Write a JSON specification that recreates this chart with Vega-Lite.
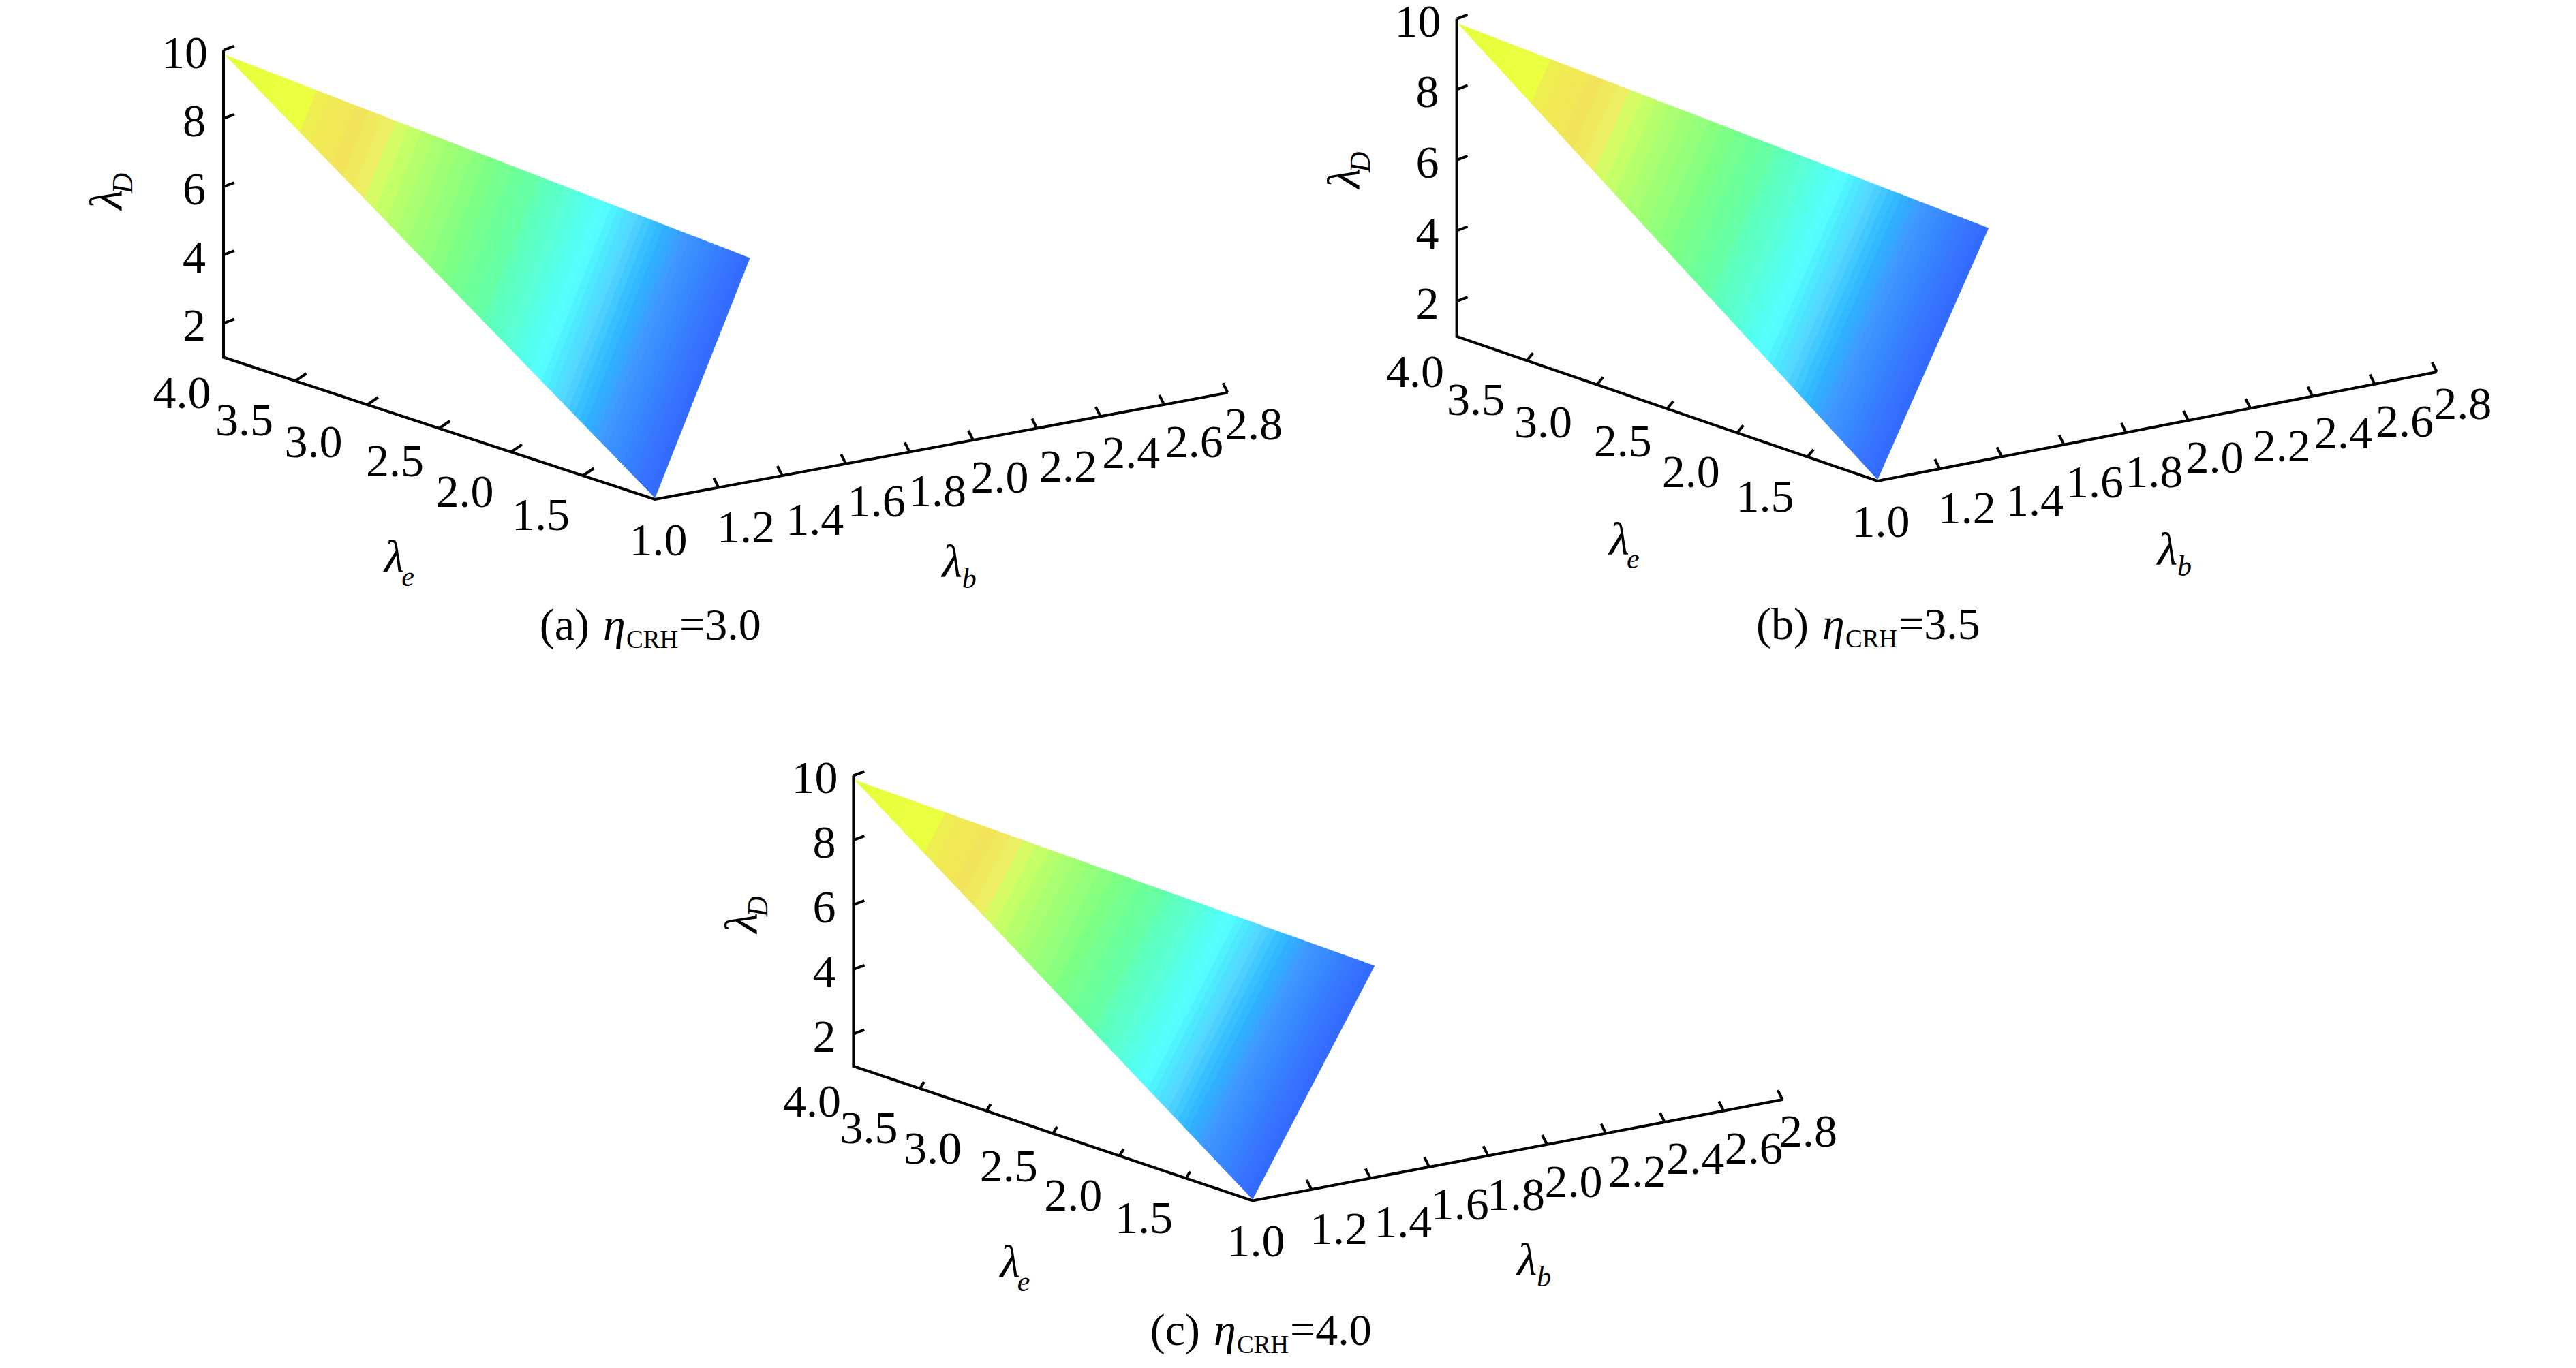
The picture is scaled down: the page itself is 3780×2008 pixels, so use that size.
{"$schema":"https://vega.github.io/schema/vega-lite/v6.json","width":3780,"height":2008,"padding":0,"autosize":"none","background":"white","config":{"view":{"stroke":null},"text":{"font":"Liberation Serif"}},
"params":[{"name":"P","value":{"ox":{"a":961,"b":2755,"c":1838},"oy":{"a":733,"b":706,"c":1762.4},"ex":{"a":-211,"b":-205.8,"c":-195.2},"ey":{"a":-69.5,"b":-70.7,"c":-65.8},"bx":{"a":467,"b":456,"c":432},"by":{"a":-87,"b":-88.9,"c":-82.4},"dz":{"a":50.1,"b":51.8,"c":47.4},"etx":{"a":16,"b":9,"c":6},"ety":{"a":-11,"b":-11,"c":-10},"Rb":{"a":1.298,"b":1.357,"c":1.414},"RD":7.56,"Te":3.99,"TD":9.88,"BD":1.05,"capx":{"a":865,"b":2654,"c":1761},"capy":{"a":939,"b":938,"c":1974}}},
{"name":"L","value":{"e4.0":[-61,54],"e3.5":[-75,60],"e3.0":[-79,57],"e2.5":[-65,50],"e2.0":[-68,60],"e1.5":[-62,60],"e1.0":[5,62],"b1.2":[40,60],"b1.4":[48,67],"b1.6":[45,57],"b1.8":[41,60],"b2.0":[39,57],"b2.2":[46,58],"b2.4":[45,56],"b2.6":[44,57],"b2.8":[38,49],"D10":[-57,6],"D8":[-43,6],"D6":[-43,6],"D4":[-43,6],"D2":[-43,6]}},
{"name":"TO","value":{"ae":[-66,191],"be":[-70,194],"ce":[-63,191],"ab":[16,172],"bb":[15,183],"cb":[14,164],"aD":[-169,-6],"bD":[-163,1],"cD":[-161,3]}}],
"data":{"values":[
{"kind":"strip","panel":"a","t0":0,"t1":0.025},{"kind":"strip","panel":"a","t0":0.025,"t1":0.05},{"kind":"strip","panel":"a","t0":0.05,"t1":0.075},{"kind":"strip","panel":"a","t0":0.075,"t1":0.1},{"kind":"strip","panel":"a","t0":0.1,"t1":0.125},{"kind":"strip","panel":"a","t0":0.125,"t1":0.15},{"kind":"strip","panel":"a","t0":0.15,"t1":0.175},{"kind":"strip","panel":"a","t0":0.175,"t1":0.2},{"kind":"strip","panel":"a","t0":0.2,"t1":0.225},{"kind":"strip","panel":"a","t0":0.225,"t1":0.25},{"kind":"strip","panel":"a","t0":0.25,"t1":0.275},{"kind":"strip","panel":"a","t0":0.275,"t1":0.3},{"kind":"strip","panel":"a","t0":0.3,"t1":0.325},{"kind":"strip","panel":"a","t0":0.325,"t1":0.35},{"kind":"strip","panel":"a","t0":0.35,"t1":0.375},{"kind":"strip","panel":"a","t0":0.375,"t1":0.4},{"kind":"strip","panel":"a","t0":0.4,"t1":0.425},{"kind":"strip","panel":"a","t0":0.425,"t1":0.45},{"kind":"strip","panel":"a","t0":0.45,"t1":0.475},{"kind":"strip","panel":"a","t0":0.475,"t1":0.5},{"kind":"strip","panel":"a","t0":0.5,"t1":0.525},{"kind":"strip","panel":"a","t0":0.525,"t1":0.55},{"kind":"strip","panel":"a","t0":0.55,"t1":0.575},{"kind":"strip","panel":"a","t0":0.575,"t1":0.6},
{"kind":"strip","panel":"a","t0":0.6,"t1":0.6125},{"kind":"strip","panel":"a","t0":0.6125,"t1":0.625},{"kind":"strip","panel":"a","t0":0.625,"t1":0.6375},{"kind":"strip","panel":"a","t0":0.6375,"t1":0.65},{"kind":"strip","panel":"a","t0":0.65,"t1":0.6625},{"kind":"strip","panel":"a","t0":0.6625,"t1":0.675},{"kind":"strip","panel":"a","t0":0.675,"t1":0.6875},{"kind":"strip","panel":"a","t0":0.6875,"t1":0.7},{"kind":"strip","panel":"a","t0":0.7,"t1":0.7125},{"kind":"strip","panel":"a","t0":0.7125,"t1":0.725},{"kind":"strip","panel":"a","t0":0.725,"t1":0.7375},{"kind":"strip","panel":"a","t0":0.7375,"t1":0.75},{"kind":"strip","panel":"a","t0":0.75,"t1":0.7625},{"kind":"strip","panel":"a","t0":0.7625,"t1":0.775},{"kind":"strip","panel":"a","t0":0.775,"t1":0.7875},{"kind":"strip","panel":"a","t0":0.7875,"t1":0.8},{"kind":"strip","panel":"a","t0":0.8,"t1":0.8125},{"kind":"strip","panel":"a","t0":0.8125,"t1":0.825},{"kind":"strip","panel":"a","t0":0.825,"t1":0.8375},{"kind":"strip","panel":"a","t0":0.8375,"t1":0.85},{"kind":"strip","panel":"a","t0":0.85,"t1":0.8625},{"kind":"strip","panel":"a","t0":0.8625,"t1":0.875},{"kind":"strip","panel":"a","t0":0.875,"t1":0.8875},{"kind":"strip","panel":"a","t0":0.8875,"t1":0.9},{"kind":"strip","panel":"a","t0":0.9,"t1":0.9125},{"kind":"strip","panel":"a","t0":0.9125,"t1":0.925},{"kind":"strip","panel":"a","t0":0.925,"t1":0.9375},{"kind":"strip","panel":"a","t0":0.9375,"t1":0.95},{"kind":"strip","panel":"a","t0":0.95,"t1":0.9625},{"kind":"strip","panel":"a","t0":0.9625,"t1":0.975},{"kind":"strip","panel":"a","t0":0.975,"t1":0.9875},{"kind":"strip","panel":"a","t0":0.9875,"t1":1},
{"kind":"strip","panel":"b","t0":0,"t1":0.025},{"kind":"strip","panel":"b","t0":0.025,"t1":0.05},{"kind":"strip","panel":"b","t0":0.05,"t1":0.075},{"kind":"strip","panel":"b","t0":0.075,"t1":0.1},{"kind":"strip","panel":"b","t0":0.1,"t1":0.125},{"kind":"strip","panel":"b","t0":0.125,"t1":0.15},{"kind":"strip","panel":"b","t0":0.15,"t1":0.175},{"kind":"strip","panel":"b","t0":0.175,"t1":0.2},{"kind":"strip","panel":"b","t0":0.2,"t1":0.225},{"kind":"strip","panel":"b","t0":0.225,"t1":0.25},{"kind":"strip","panel":"b","t0":0.25,"t1":0.275},{"kind":"strip","panel":"b","t0":0.275,"t1":0.3},{"kind":"strip","panel":"b","t0":0.3,"t1":0.325},{"kind":"strip","panel":"b","t0":0.325,"t1":0.35},{"kind":"strip","panel":"b","t0":0.35,"t1":0.375},{"kind":"strip","panel":"b","t0":0.375,"t1":0.4},{"kind":"strip","panel":"b","t0":0.4,"t1":0.425},{"kind":"strip","panel":"b","t0":0.425,"t1":0.45},{"kind":"strip","panel":"b","t0":0.45,"t1":0.475},{"kind":"strip","panel":"b","t0":0.475,"t1":0.5},{"kind":"strip","panel":"b","t0":0.5,"t1":0.525},{"kind":"strip","panel":"b","t0":0.525,"t1":0.55},{"kind":"strip","panel":"b","t0":0.55,"t1":0.575},{"kind":"strip","panel":"b","t0":0.575,"t1":0.6},
{"kind":"strip","panel":"b","t0":0.6,"t1":0.6125},{"kind":"strip","panel":"b","t0":0.6125,"t1":0.625},{"kind":"strip","panel":"b","t0":0.625,"t1":0.6375},{"kind":"strip","panel":"b","t0":0.6375,"t1":0.65},{"kind":"strip","panel":"b","t0":0.65,"t1":0.6625},{"kind":"strip","panel":"b","t0":0.6625,"t1":0.675},{"kind":"strip","panel":"b","t0":0.675,"t1":0.6875},{"kind":"strip","panel":"b","t0":0.6875,"t1":0.7},{"kind":"strip","panel":"b","t0":0.7,"t1":0.7125},{"kind":"strip","panel":"b","t0":0.7125,"t1":0.725},{"kind":"strip","panel":"b","t0":0.725,"t1":0.7375},{"kind":"strip","panel":"b","t0":0.7375,"t1":0.75},{"kind":"strip","panel":"b","t0":0.75,"t1":0.7625},{"kind":"strip","panel":"b","t0":0.7625,"t1":0.775},{"kind":"strip","panel":"b","t0":0.775,"t1":0.7875},{"kind":"strip","panel":"b","t0":0.7875,"t1":0.8},{"kind":"strip","panel":"b","t0":0.8,"t1":0.8125},{"kind":"strip","panel":"b","t0":0.8125,"t1":0.825},{"kind":"strip","panel":"b","t0":0.825,"t1":0.8375},{"kind":"strip","panel":"b","t0":0.8375,"t1":0.85},{"kind":"strip","panel":"b","t0":0.85,"t1":0.8625},{"kind":"strip","panel":"b","t0":0.8625,"t1":0.875},{"kind":"strip","panel":"b","t0":0.875,"t1":0.8875},{"kind":"strip","panel":"b","t0":0.8875,"t1":0.9},{"kind":"strip","panel":"b","t0":0.9,"t1":0.9125},{"kind":"strip","panel":"b","t0":0.9125,"t1":0.925},{"kind":"strip","panel":"b","t0":0.925,"t1":0.9375},{"kind":"strip","panel":"b","t0":0.9375,"t1":0.95},{"kind":"strip","panel":"b","t0":0.95,"t1":0.9625},{"kind":"strip","panel":"b","t0":0.9625,"t1":0.975},{"kind":"strip","panel":"b","t0":0.975,"t1":0.9875},{"kind":"strip","panel":"b","t0":0.9875,"t1":1},
{"kind":"strip","panel":"c","t0":0,"t1":0.025},{"kind":"strip","panel":"c","t0":0.025,"t1":0.05},{"kind":"strip","panel":"c","t0":0.05,"t1":0.075},{"kind":"strip","panel":"c","t0":0.075,"t1":0.1},{"kind":"strip","panel":"c","t0":0.1,"t1":0.125},{"kind":"strip","panel":"c","t0":0.125,"t1":0.15},{"kind":"strip","panel":"c","t0":0.15,"t1":0.175},{"kind":"strip","panel":"c","t0":0.175,"t1":0.2},{"kind":"strip","panel":"c","t0":0.2,"t1":0.225},{"kind":"strip","panel":"c","t0":0.225,"t1":0.25},{"kind":"strip","panel":"c","t0":0.25,"t1":0.275},{"kind":"strip","panel":"c","t0":0.275,"t1":0.3},{"kind":"strip","panel":"c","t0":0.3,"t1":0.325},{"kind":"strip","panel":"c","t0":0.325,"t1":0.35},{"kind":"strip","panel":"c","t0":0.35,"t1":0.375},{"kind":"strip","panel":"c","t0":0.375,"t1":0.4},{"kind":"strip","panel":"c","t0":0.4,"t1":0.425},{"kind":"strip","panel":"c","t0":0.425,"t1":0.45},{"kind":"strip","panel":"c","t0":0.45,"t1":0.475},{"kind":"strip","panel":"c","t0":0.475,"t1":0.5},{"kind":"strip","panel":"c","t0":0.5,"t1":0.525},{"kind":"strip","panel":"c","t0":0.525,"t1":0.55},{"kind":"strip","panel":"c","t0":0.55,"t1":0.575},{"kind":"strip","panel":"c","t0":0.575,"t1":0.6},
{"kind":"strip","panel":"c","t0":0.6,"t1":0.6125},{"kind":"strip","panel":"c","t0":0.6125,"t1":0.625},{"kind":"strip","panel":"c","t0":0.625,"t1":0.6375},{"kind":"strip","panel":"c","t0":0.6375,"t1":0.65},{"kind":"strip","panel":"c","t0":0.65,"t1":0.6625},{"kind":"strip","panel":"c","t0":0.6625,"t1":0.675},{"kind":"strip","panel":"c","t0":0.675,"t1":0.6875},{"kind":"strip","panel":"c","t0":0.6875,"t1":0.7},{"kind":"strip","panel":"c","t0":0.7,"t1":0.7125},{"kind":"strip","panel":"c","t0":0.7125,"t1":0.725},{"kind":"strip","panel":"c","t0":0.725,"t1":0.7375},{"kind":"strip","panel":"c","t0":0.7375,"t1":0.75},{"kind":"strip","panel":"c","t0":0.75,"t1":0.7625},{"kind":"strip","panel":"c","t0":0.7625,"t1":0.775},{"kind":"strip","panel":"c","t0":0.775,"t1":0.7875},{"kind":"strip","panel":"c","t0":0.7875,"t1":0.8},{"kind":"strip","panel":"c","t0":0.8,"t1":0.8125},{"kind":"strip","panel":"c","t0":0.8125,"t1":0.825},{"kind":"strip","panel":"c","t0":0.825,"t1":0.8375},{"kind":"strip","panel":"c","t0":0.8375,"t1":0.85},{"kind":"strip","panel":"c","t0":0.85,"t1":0.8625},{"kind":"strip","panel":"c","t0":0.8625,"t1":0.875},{"kind":"strip","panel":"c","t0":0.875,"t1":0.8875},{"kind":"strip","panel":"c","t0":0.8875,"t1":0.9},{"kind":"strip","panel":"c","t0":0.9,"t1":0.9125},{"kind":"strip","panel":"c","t0":0.9125,"t1":0.925},{"kind":"strip","panel":"c","t0":0.925,"t1":0.9375},{"kind":"strip","panel":"c","t0":0.9375,"t1":0.95},{"kind":"strip","panel":"c","t0":0.95,"t1":0.9625},{"kind":"strip","panel":"c","t0":0.9625,"t1":0.975},{"kind":"strip","panel":"c","t0":0.975,"t1":0.9875},{"kind":"strip","panel":"c","t0":0.9875,"t1":1},
{"kind":"axis","panel":"a","n":0,"e":4,"b":1,"D":10},{"kind":"axis","panel":"a","n":1,"e":4,"b":1,"D":1},{"kind":"axis","panel":"a","n":2,"e":1,"b":1,"D":1},{"kind":"axis","panel":"a","n":3,"e":1,"b":2.8,"D":1},
{"kind":"axis","panel":"b","n":0,"e":4,"b":1,"D":10},{"kind":"axis","panel":"b","n":1,"e":4,"b":1,"D":1},{"kind":"axis","panel":"b","n":2,"e":1,"b":1,"D":1},{"kind":"axis","panel":"b","n":3,"e":1,"b":2.8,"D":1},
{"kind":"axis","panel":"c","n":0,"e":4,"b":1,"D":10},{"kind":"axis","panel":"c","n":1,"e":4,"b":1,"D":1},{"kind":"axis","panel":"c","n":2,"e":1,"b":1,"D":1},{"kind":"axis","panel":"c","n":3,"e":1,"b":2.8,"D":1},
{"kind":"tick","panel":"a","axis":"D","e":4,"b":1,"D":10,"label":"10"},{"kind":"tick","panel":"a","axis":"D","e":4,"b":1,"D":8,"label":"8"},{"kind":"tick","panel":"a","axis":"D","e":4,"b":1,"D":6,"label":"6"},{"kind":"tick","panel":"a","axis":"D","e":4,"b":1,"D":4,"label":"4"},{"kind":"tick","panel":"a","axis":"D","e":4,"b":1,"D":2,"label":"2"},
{"kind":"tick","panel":"a","axis":"e","e":4,"b":1,"D":1,"label":"4.0"},{"kind":"tick","panel":"a","axis":"e","e":3.5,"b":1,"D":1,"label":"3.5"},{"kind":"tick","panel":"a","axis":"e","e":3,"b":1,"D":1,"label":"3.0"},{"kind":"tick","panel":"a","axis":"e","e":2.5,"b":1,"D":1,"label":"2.5"},{"kind":"tick","panel":"a","axis":"e","e":2,"b":1,"D":1,"label":"2.0"},{"kind":"tick","panel":"a","axis":"e","e":1.5,"b":1,"D":1,"label":"1.5"},{"kind":"tick","panel":"a","axis":"e","e":1,"b":1,"D":1,"label":"1.0"},
{"kind":"tick","panel":"a","axis":"b","e":1,"b":1.2,"D":1,"label":"1.2"},{"kind":"tick","panel":"a","axis":"b","e":1,"b":1.4,"D":1,"label":"1.4"},{"kind":"tick","panel":"a","axis":"b","e":1,"b":1.6,"D":1,"label":"1.6"},{"kind":"tick","panel":"a","axis":"b","e":1,"b":1.8,"D":1,"label":"1.8"},{"kind":"tick","panel":"a","axis":"b","e":1,"b":2,"D":1,"label":"2.0"},{"kind":"tick","panel":"a","axis":"b","e":1,"b":2.2,"D":1,"label":"2.2"},{"kind":"tick","panel":"a","axis":"b","e":1,"b":2.4,"D":1,"label":"2.4"},{"kind":"tick","panel":"a","axis":"b","e":1,"b":2.6,"D":1,"label":"2.6"},{"kind":"tick","panel":"a","axis":"b","e":1,"b":2.8,"D":1,"label":"2.8"},
{"kind":"tick","panel":"b","axis":"D","e":4,"b":1,"D":10,"label":"10"},{"kind":"tick","panel":"b","axis":"D","e":4,"b":1,"D":8,"label":"8"},{"kind":"tick","panel":"b","axis":"D","e":4,"b":1,"D":6,"label":"6"},{"kind":"tick","panel":"b","axis":"D","e":4,"b":1,"D":4,"label":"4"},{"kind":"tick","panel":"b","axis":"D","e":4,"b":1,"D":2,"label":"2"},
{"kind":"tick","panel":"b","axis":"e","e":4,"b":1,"D":1,"label":"4.0"},{"kind":"tick","panel":"b","axis":"e","e":3.5,"b":1,"D":1,"label":"3.5"},{"kind":"tick","panel":"b","axis":"e","e":3,"b":1,"D":1,"label":"3.0"},{"kind":"tick","panel":"b","axis":"e","e":2.5,"b":1,"D":1,"label":"2.5"},{"kind":"tick","panel":"b","axis":"e","e":2,"b":1,"D":1,"label":"2.0"},{"kind":"tick","panel":"b","axis":"e","e":1.5,"b":1,"D":1,"label":"1.5"},{"kind":"tick","panel":"b","axis":"e","e":1,"b":1,"D":1,"label":"1.0"},
{"kind":"tick","panel":"b","axis":"b","e":1,"b":1.2,"D":1,"label":"1.2"},{"kind":"tick","panel":"b","axis":"b","e":1,"b":1.4,"D":1,"label":"1.4"},{"kind":"tick","panel":"b","axis":"b","e":1,"b":1.6,"D":1,"label":"1.6"},{"kind":"tick","panel":"b","axis":"b","e":1,"b":1.8,"D":1,"label":"1.8"},{"kind":"tick","panel":"b","axis":"b","e":1,"b":2,"D":1,"label":"2.0"},{"kind":"tick","panel":"b","axis":"b","e":1,"b":2.2,"D":1,"label":"2.2"},{"kind":"tick","panel":"b","axis":"b","e":1,"b":2.4,"D":1,"label":"2.4"},{"kind":"tick","panel":"b","axis":"b","e":1,"b":2.6,"D":1,"label":"2.6"},{"kind":"tick","panel":"b","axis":"b","e":1,"b":2.8,"D":1,"label":"2.8"},
{"kind":"tick","panel":"c","axis":"D","e":4,"b":1,"D":10,"label":"10"},{"kind":"tick","panel":"c","axis":"D","e":4,"b":1,"D":8,"label":"8"},{"kind":"tick","panel":"c","axis":"D","e":4,"b":1,"D":6,"label":"6"},{"kind":"tick","panel":"c","axis":"D","e":4,"b":1,"D":4,"label":"4"},{"kind":"tick","panel":"c","axis":"D","e":4,"b":1,"D":2,"label":"2"},
{"kind":"tick","panel":"c","axis":"e","e":4,"b":1,"D":1,"label":"4.0"},{"kind":"tick","panel":"c","axis":"e","e":3.5,"b":1,"D":1,"label":"3.5"},{"kind":"tick","panel":"c","axis":"e","e":3,"b":1,"D":1,"label":"3.0"},{"kind":"tick","panel":"c","axis":"e","e":2.5,"b":1,"D":1,"label":"2.5"},{"kind":"tick","panel":"c","axis":"e","e":2,"b":1,"D":1,"label":"2.0"},{"kind":"tick","panel":"c","axis":"e","e":1.5,"b":1,"D":1,"label":"1.5"},{"kind":"tick","panel":"c","axis":"e","e":1,"b":1,"D":1,"label":"1.0"},
{"kind":"tick","panel":"c","axis":"b","e":1,"b":1.2,"D":1,"label":"1.2"},{"kind":"tick","panel":"c","axis":"b","e":1,"b":1.4,"D":1,"label":"1.4"},{"kind":"tick","panel":"c","axis":"b","e":1,"b":1.6,"D":1,"label":"1.6"},{"kind":"tick","panel":"c","axis":"b","e":1,"b":1.8,"D":1,"label":"1.8"},{"kind":"tick","panel":"c","axis":"b","e":1,"b":2,"D":1,"label":"2.0"},{"kind":"tick","panel":"c","axis":"b","e":1,"b":2.2,"D":1,"label":"2.2"},{"kind":"tick","panel":"c","axis":"b","e":1,"b":2.4,"D":1,"label":"2.4"},{"kind":"tick","panel":"c","axis":"b","e":1,"b":2.6,"D":1,"label":"2.6"},{"kind":"tick","panel":"c","axis":"b","e":1,"b":2.8,"D":1,"label":"2.8"},
{"kind":"title","panel":"a","axis":"e","e":2.5,"b":1,"D":1},{"kind":"title","panel":"a","axis":"b","e":1,"b":1.9,"D":1},{"kind":"title","panel":"a","axis":"D","e":4,"b":1,"D":5.5},
{"kind":"title","panel":"b","axis":"e","e":2.5,"b":1,"D":1},{"kind":"title","panel":"b","axis":"b","e":1,"b":1.9,"D":1},{"kind":"title","panel":"b","axis":"D","e":4,"b":1,"D":5.5},
{"kind":"title","panel":"c","axis":"e","e":2.5,"b":1,"D":1},{"kind":"title","panel":"c","axis":"b","e":1,"b":1.9,"D":1},{"kind":"title","panel":"c","axis":"D","e":4,"b":1,"D":5.5},
{"kind":"caption","panel":"a","tag":"(a)","value":"=3.0"},{"kind":"caption","panel":"b","tag":"(b)","value":"=3.5"},{"kind":"caption","panel":"c","tag":"(c)","value":"=4.0"}
]},
"transform":[
{"calculate":"datum.kind=='strip'?[0,1,2,3]:[0]","as":"verts"},{"flatten":["verts"]},
{"calculate":"datum.verts<2?datum.t0:datum.t1","as":"tv"},
{"calculate":"datum.verts==0||datum.verts==3","as":"toR"},
{"calculate":"datum.kind=='strip'?P.Te+datum.tv*(1-P.Te):datum.e","as":"E"},
{"calculate":"datum.kind=='strip'?1+datum.tv*((datum.toR?P.Rb[datum.panel]:1)-1):datum.b","as":"B"},
{"calculate":"datum.kind=='strip'?P.TD+datum.tv*((datum.toR?P.RD:P.BD)-P.TD):datum.D","as":"Z"},
{"calculate":"P.ox[datum.panel]+(datum.E-1)*P.ex[datum.panel]+(datum.B-1)*P.bx[datum.panel]","as":"sx"},
{"calculate":"P.oy[datum.panel]+(datum.E-1)*P.ey[datum.panel]+(datum.B-1)*P.by[datum.panel]-(datum.Z-1)*P.dz[datum.panel]","as":"sy"},
{"calculate":"datum.sx+(datum.axis=='D'?16:datum.axis=='b'?-7:P.etx[datum.panel])","as":"sx2"},
{"calculate":"datum.sy+(datum.axis=='D'?-6:datum.axis=='b'?-14:P.ety[datum.panel])","as":"sy2"},
{"calculate":"datum.kind=='tick'?datum.sx+L[datum.axis+datum.label][0]:datum.kind=='title'?datum.sx+TO[datum.panel+datum.axis][0]:P.capx[datum.panel]","as":"tx"},
{"calculate":"datum.kind=='tick'?datum.sy+L[datum.axis+datum.label][1]:datum.kind=='title'?datum.sy+TO[datum.panel+datum.axis][1]:P.capy[datum.panel]","as":"ty"}
],
"encoding":{"x":{"field":"tx","type":"quantitative","scale":{"domain":[0,3780],"nice":false,"zero":false},"axis":null},"y":{"field":"ty","type":"quantitative","scale":{"domain":[2008,0],"nice":false,"zero":false},"axis":null}},
"layer":[
{"transform":[{"filter":"datum.kind=='strip'"}],"mark":{"type":"line","strokeWidth":1,"clip":false},"encoding":{"x":{"field":"sx","type":"quantitative"},"y":{"field":"sy","type":"quantitative"},"detail":{"field":"panel"},"order":{"field":"verts","type":"quantitative"},
"fill":{"field":"t0","type":"quantitative","legend":null,"scale":{"domain":[0,0.15,0.165,0.25,0.3,0.33,0.4,0.5,0.58,0.65,0.72,0.78,0.87,0.95,1],"range":["#E6FF3C","#EAFF40","#EFEF50","#F2E45A","#EEEE62","#CFFF66","#A8FF70","#7CFF85","#66FFA6","#5CFFD2","#58FFFF","#55D4FF","#4298FF","#3878FF","#3366FF"]}},
"stroke":{"field":"t0","type":"quantitative","legend":null,"scale":{"domain":[0,0.15,0.165,0.25,0.3,0.33,0.4,0.5,0.58,0.65,0.72,0.78,0.87,0.95,1],"range":["#E6FF3C","#EAFF40","#EFEF50","#F2E45A","#EEEE62","#CFFF66","#A8FF70","#7CFF85","#66FFA6","#5CFFD2","#58FFFF","#55D4FF","#4298FF","#3878FF","#3366FF"]}}}},
{"transform":[{"filter":"datum.kind=='axis'"}],"mark":{"type":"line","stroke":"black","strokeWidth":4,"strokeJoin":"miter"},"encoding":{"x":{"field":"sx","type":"quantitative"},"y":{"field":"sy","type":"quantitative"},"detail":{"field":"panel"},"order":{"field":"n","type":"quantitative"}}},
{"transform":[{"filter":"datum.kind=='tick'&&!(datum.axis=='e'&&(datum.label=='4.0'||datum.label=='1.0'))"}],"mark":{"type":"rule","stroke":"black","strokeWidth":4},"encoding":{"x":{"field":"sx","type":"quantitative"},"y":{"field":"sy","type":"quantitative"},"x2":{"field":"sx2"},"y2":{"field":"sy2"}}},
{"transform":[{"filter":"datum.kind=='tick'"}],"mark":{"type":"text","fontSize":68,"font":"Liberation Serif","align":"center","baseline":"middle","fill":"black"},"encoding":{"text":{"field":"label"}}},
{"transform":[{"filter":"datum.kind=='title'&&datum.axis!='D'"}],"mark":{"type":"text","fontSize":68,"font":"Liberation Serif","fontStyle":"italic","align":"center","baseline":"middle","fill":"black","text":"λ"}},
{"transform":[{"filter":"datum.kind=='title'&&datum.axis=='e'"}],"mark":{"type":"text","fontSize":42,"font":"Liberation Serif","fontStyle":"italic","align":"center","baseline":"middle","fill":"black","dx":20,"dy":27,"text":"e"}},
{"transform":[{"filter":"datum.kind=='title'&&datum.axis=='b'"}],"mark":{"type":"text","fontSize":42,"font":"Liberation Serif","fontStyle":"italic","align":"center","baseline":"middle","fill":"black","dx":25,"dy":23,"text":"b"}},
{"transform":[{"filter":"datum.kind=='title'&&datum.axis=='D'"}],"mark":{"type":"text","fontSize":68,"font":"Liberation Serif","fontStyle":"italic","align":"center","baseline":"middle","fill":"black","angle":270,"text":"λ"}},
{"transform":[{"filter":"datum.kind=='title'&&datum.axis=='D'"}],"mark":{"type":"text","fontSize":42,"font":"Liberation Serif","fontStyle":"italic","align":"center","baseline":"middle","fill":"black","angle":270,"dx":24,"dy":22,"text":"D"}},
{"transform":[{"filter":"datum.kind=='caption'"}],"mark":{"type":"text","fontSize":66,"font":"Liberation Serif","align":"right","baseline":"alphabetic","fill":"black"},"encoding":{"text":{"field":"tag"}}},
{"transform":[{"filter":"datum.kind=='caption'"}],"mark":{"type":"text","fontSize":66,"font":"Liberation Serif","fontStyle":"italic","align":"left","baseline":"alphabetic","fill":"black","dx":20,"text":"η"}},
{"transform":[{"filter":"datum.kind=='caption'"}],"mark":{"type":"text","fontSize":37,"font":"Liberation Serif","align":"left","baseline":"alphabetic","fill":"black","dx":54,"dy":12,"text":"CRH"}},
{"transform":[{"filter":"datum.kind=='caption'"}],"mark":{"type":"text","fontSize":66,"font":"Liberation Serif","align":"left","baseline":"alphabetic","fill":"black","dx":132},"encoding":{"text":{"field":"value"}}}
]}
